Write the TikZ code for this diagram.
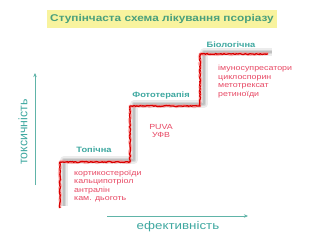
\documentclass[tikz,border=0pt]{standalone}
\usepackage{fontspec}
\setmainfont{Liberation Sans}[FakeStretch=1.2]
\newfontfamily\axisfont{Liberation Sans}
\usetikzlibrary{arrows.meta, decorations.pathmorphing, positioning}

\definecolor{stagetext}{RGB}{62,168,160}
\definecolor{titletext}{RGB}{74,160,124}
\definecolor{drugred}{RGB}{232,72,100}
\definecolor{titlebg}{RGB}{248,243,158}
\definecolor{axisline}{RGB}{96,180,168}

\begin{document}
\begin{tikzpicture}[x=0.03cm, y=-0.03cm,
    stage/.style={font=\fontsize{6.6}{7}\selectfont\bfseries, text=stagetext, inner sep=0pt},
    drugs/.style={font=\fontsize{6.3}{7.3}\selectfont, text=drugred, align=left, inner sep=0pt, anchor=north west},
    axis/.style={draw=axisline, line width=0.8pt, -{Stealth[length=3.5pt, width=3pt]}},
    axislabel/.style={text=stagetext, inner sep=0pt},
    stairs/.style={draw=red!85!black, line width=1.1pt, line join=round, decorate,
                   decoration={random steps, segment length=1.2pt, amplitude=0.45pt}},
    stairsglow/.style={draw=red!45, line width=2.4pt, line join=round, opacity=0.6, decorate,
                   decoration={random steps, segment length=1.5pt, amplitude=0.7pt}},
    shade/.style={draw=gray, line join=round, opacity=#1},
    stairpath/.style={insert path={-- ++(0,-46) -- ++(70,0) -- ++(0,-56) -- ++(70,0) -- ++(0,-52) -- ++(68,0)}}]
    \fill[white] (0,0) rectangle (320,240);
    \useasboundingbox (0,0) rectangle (320,240);

    \node[fill=titlebg, minimum width=196pt, minimum height=15.4pt, inner sep=0pt,
          font=\fontsize{8.4}{9}\selectfont\bfseries, text=titletext] (title) at (162,19)
      {Ступінчаста схема лікування псоріазу};

    % soft shadow of the stairs, then the ragged red edge
    \draw[shade=0.15, line width=6pt] (64,206) [stairpath];
    \draw[shade=0.2, line width=4pt] (64,206) [stairpath];
    \draw[shade=0.25, line width=2pt] (64,206) [stairpath];
    \draw[stairsglow] (60,208) [stairpath];
    \draw[stairs] (60,208) [stairpath];

    \node[stage] (topical) at (94,150) {Топічна};
    \node[drugs] (topical-drugs) at (74,170)
      {кортикостероїди\\кальципотріол\\антралін\\кам. дьоготь};
    \node[stage] (photo) at (161,95) {Фототерапія};
    \node[drugs, align=center, anchor=center] (photo-drugs) at (161,131) {PUVA\\УФВ};
    \node[stage] (bio) at (231,45) {Біологічна};
    \node[drugs] (bio-drugs) at (218,65)
      {імуносупресатори\\циклоспорин\\метотрексат\\ретиноїди};

    \coordinate (tox-start) at (35,185);
    \coordinate (tox-end) at (35,73);
    \draw[axis] (tox-start) -- (tox-end);
    \node[axislabel, rotate=90, font=\axisfont\fontsize{10.5}{12}\selectfont] (tox) at (23,132) {токсичність};
    \coordinate (eff-start) at (107,216);
    \coordinate (eff-end) at (248,216);
    \draw[axis] (eff-start) -- (eff-end);
    \node[axislabel, font=\fontsize{9.5}{11}\selectfont] (eff) at (178,227) {ефективність};
\end{tikzpicture}
\end{document}
